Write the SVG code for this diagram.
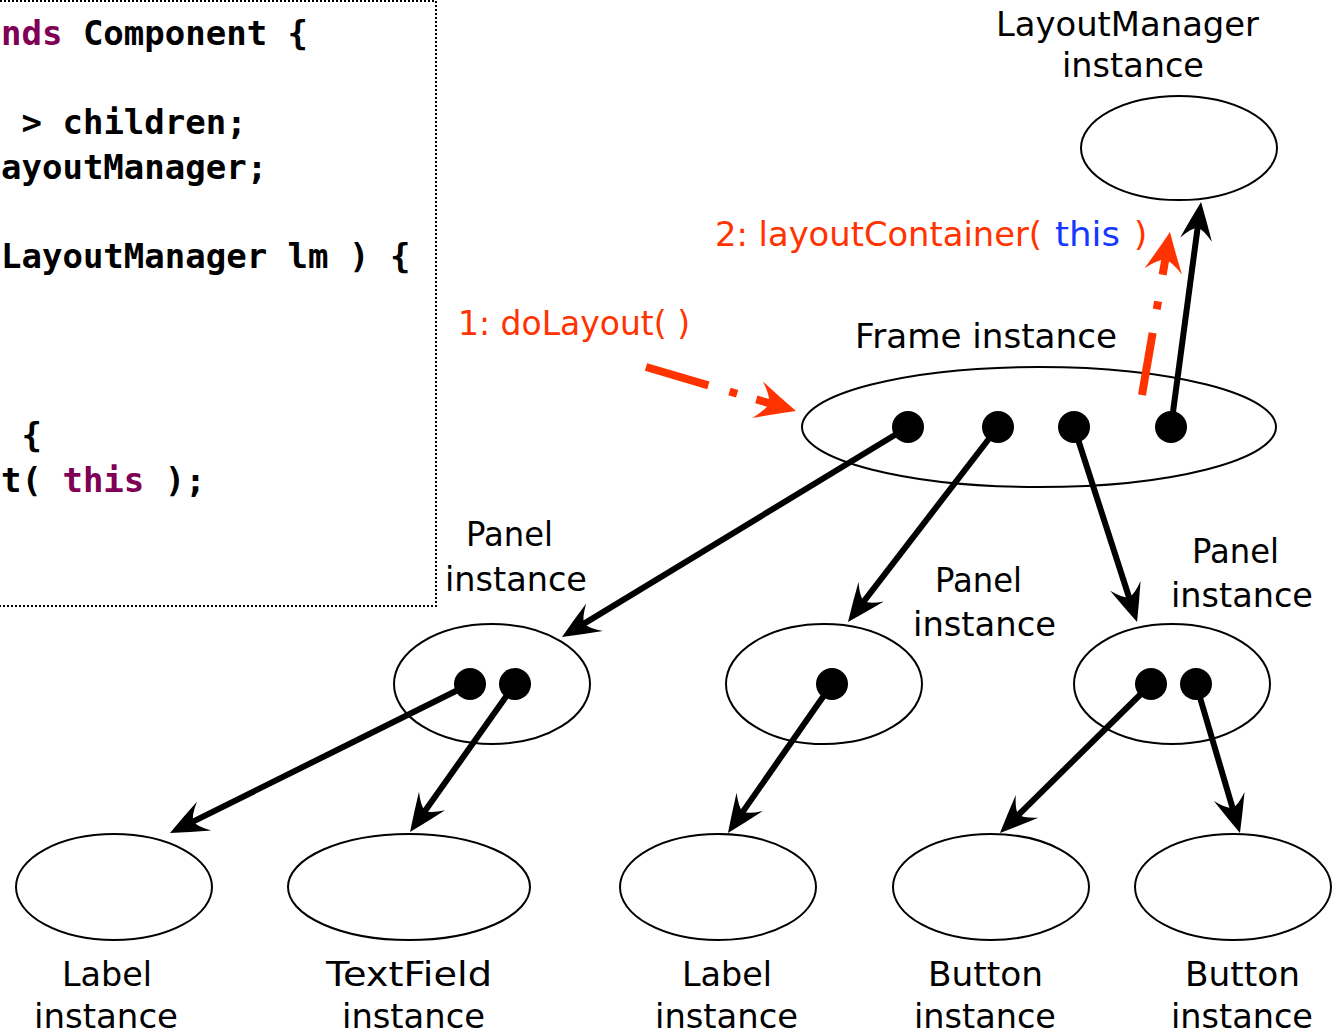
<svg xmlns="http://www.w3.org/2000/svg" width="1336" height="1035" viewBox="0 0 1336 1035">
  <style>
    .code { font-family: "DejaVu Sans Mono", "Liberation Mono", monospace; font-weight: bold; font-size: 34px; fill: #000; }
    .kw { fill: #7f0055; }
    .lbl { font-family: "DejaVu Sans", "Noto Sans", sans-serif; font-size: 34px; fill: #000; }
    .call { font-family: "DejaVu Sans", "Noto Sans", sans-serif; font-size: 34px; fill: #ff3300; }
    .arg { fill: #1438ff; }
    .obj { fill: #fff; stroke: #000; stroke-width: 2; }
    .slot { fill: #000; }
    .ref { fill: none; stroke: #000; stroke-width: 6; marker-end: url(#ah); }
    .msg { fill: none; stroke: #ff3300; stroke-width: 8; marker-end: url(#ahr); }
    .frame { fill: none; stroke: #000; stroke-width: 2; stroke-dasharray: 2 2; }
  </style>
  <defs>
    <marker id="ah" markerUnits="userSpaceOnUse" orient="auto" viewBox="-42 -20 44 40" refX="-20" refY="0" markerWidth="44" markerHeight="40">
      <path d="M0,0 Q-18,-8 -38,-16 Q-27,-6 -26,0 Q-27,6 -38,16 Q-18,8 0,0 Z" fill="#000"/>
    </marker>
    <marker id="ahr" markerUnits="userSpaceOnUse" orient="auto" viewBox="-44 -22 46 44" refX="-20" refY="0" markerWidth="46" markerHeight="44">
      <path d="M0,0 Q-20,-9 -40,-19 Q-29,-7 -28,0 Q-29,7 -40,19 Q-20,9 0,0 Z" fill="#ff3300"/>
    </marker>
  </defs>
  <rect width="1336" height="1035" fill="#fff"/>

  <!-- Container source listing -->
  <g id="code">
    <path class="frame" d="M0,1 H436 V606 H0"/>
    <text class="code" x="1" y="45"><tspan class="kw">nds</tspan> Component {</text>
    <text class="code" x="21.5" y="134">&gt; children;</text>
    <text class="code" x="1" y="179">ayoutManager;</text>
    <text class="code" x="1" y="268">LayoutManager lm ) {</text>
    <text class="code" x="21.5" y="447">{</text>
    <text class="code" x="1" y="492">t( <tspan class="kw">this</tspan> );</text>
  </g>

  <!-- Message labels -->
  <g id="messages">
    <text class="call" x="458" y="335" textLength="232" lengthAdjust="spacingAndGlyphs">1: doLayout( )</text>
    <text class="call" x="715" y="246" textLength="327" lengthAdjust="spacingAndGlyphs">2: layoutContainer(</text>
    <text class="call arg" x="1055" y="246" textLength="65" lengthAdjust="spacingAndGlyphs">this</text>
    <text class="call" x="1134" y="246">)</text>
  </g>

  <!-- Object instances -->
  <g id="layoutmanager">
    <ellipse class="obj" cx="1179" cy="148" rx="98" ry="52"/>
    <text class="lbl" x="996" y="36" textLength="263" lengthAdjust="spacingAndGlyphs">LayoutManager</text>
    <text class="lbl" x="1062" y="77" textLength="142" lengthAdjust="spacingAndGlyphs">instance</text>
  </g>
  <g id="frame">
    <ellipse class="obj" cx="1039" cy="427" rx="237" ry="60"/>
    <circle class="slot" cx="908" cy="427" r="16"/>
    <circle class="slot" cx="998" cy="427" r="16"/>
    <circle class="slot" cx="1074" cy="427" r="16"/>
    <circle class="slot" cx="1171" cy="427" r="16"/>
    <text class="lbl" x="855" y="348" textLength="262" lengthAdjust="spacingAndGlyphs">Frame instance</text>
  </g>
  <g id="panel1">
    <ellipse class="obj" cx="492" cy="684" rx="98" ry="60"/>
    <circle class="slot" cx="470" cy="684" r="16"/>
    <circle class="slot" cx="515" cy="684" r="16"/>
    <text class="lbl" x="466" y="546" textLength="87" lengthAdjust="spacingAndGlyphs">Panel</text>
    <text class="lbl" x="445" y="591" textLength="142" lengthAdjust="spacingAndGlyphs">instance</text>
  </g>
  <g id="panel2">
    <ellipse class="obj" cx="824" cy="684" rx="98" ry="60"/>
    <circle class="slot" cx="832" cy="684" r="16"/>
    <text class="lbl" x="935" y="592" textLength="87" lengthAdjust="spacingAndGlyphs">Panel</text>
    <text class="lbl" x="913" y="636" textLength="143" lengthAdjust="spacingAndGlyphs">instance</text>
  </g>
  <g id="panel3">
    <ellipse class="obj" cx="1172" cy="684" rx="98" ry="60"/>
    <circle class="slot" cx="1151" cy="684" r="16"/>
    <circle class="slot" cx="1196" cy="684" r="16"/>
    <text class="lbl" x="1192" y="563" textLength="87" lengthAdjust="spacingAndGlyphs">Panel</text>
    <text class="lbl" x="1171" y="607" textLength="142" lengthAdjust="spacingAndGlyphs">instance</text>
  </g>
  <g id="label1">
    <ellipse class="obj" cx="114" cy="887" rx="98" ry="53"/>
    <text class="lbl" x="62" y="986" textLength="90" lengthAdjust="spacingAndGlyphs">Label</text>
    <text class="lbl" x="34" y="1028" textLength="144" lengthAdjust="spacingAndGlyphs">instance</text>
  </g>
  <g id="textfield">
    <ellipse class="obj" cx="409" cy="887" rx="121" ry="53"/>
    <text class="lbl" x="326" y="986" textLength="166" lengthAdjust="spacingAndGlyphs">TextField</text>
    <text class="lbl" x="342" y="1028" textLength="143" lengthAdjust="spacingAndGlyphs">instance</text>
  </g>
  <g id="label2">
    <ellipse class="obj" cx="718" cy="887" rx="98" ry="53"/>
    <text class="lbl" x="682" y="986" textLength="90" lengthAdjust="spacingAndGlyphs">Label</text>
    <text class="lbl" x="655" y="1028" textLength="143" lengthAdjust="spacingAndGlyphs">instance</text>
  </g>
  <g id="button1">
    <ellipse class="obj" cx="991" cy="887" rx="98" ry="53"/>
    <text class="lbl" x="928" y="986" textLength="115" lengthAdjust="spacingAndGlyphs">Button</text>
    <text class="lbl" x="914" y="1028" textLength="142" lengthAdjust="spacingAndGlyphs">instance</text>
  </g>
  <g id="button2">
    <ellipse class="obj" cx="1233" cy="887" rx="98" ry="53"/>
    <text class="lbl" x="1185" y="986" textLength="115" lengthAdjust="spacingAndGlyphs">Button</text>
    <text class="lbl" x="1171" y="1028" textLength="142" lengthAdjust="spacingAndGlyphs">instance</text>
  </g>

  <!-- Connectors: references from child slots, and the two dash-dot messages -->
  <g id="connectors">
    <path class="ref" d="M908,427 L579.1,626.6"/>
    <path class="ref" d="M998,427 L860.2,606.1"/>
    <path class="ref" d="M1074,427 L1130.9,603"/>
    <path class="ref" d="M1171,427 L1198.4,221.8"/>
    <path class="ref" d="M470,684 L187.9,824.1"/>
    <path class="ref" d="M515,684 L421.6,815.7"/>
    <path class="ref" d="M832,684 L739.4,816.6"/>
    <path class="ref" d="M1151,684 L1014.2,819"/>
    <path class="ref" d="M1196,684 L1234.3,813.8"/>
    <path class="msg" d="M646,367 L776.8,405.4" stroke-dasharray="65 22 8 20 100"/>
    <path class="msg" d="M1142,395 L1166.6,251.7" stroke-dasharray="63 24 8 27 100"/>
  </g>
</svg>
